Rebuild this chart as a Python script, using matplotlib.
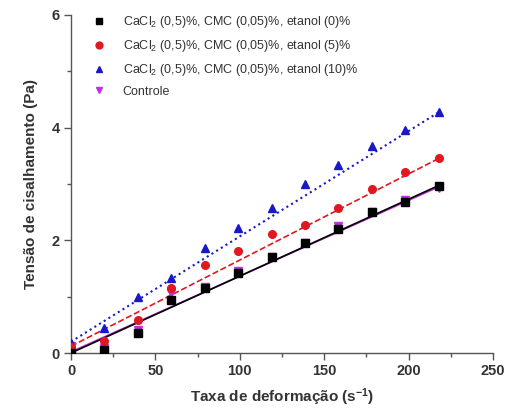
import numpy as np
import matplotlib
matplotlib.use('Agg')
import matplotlib.pyplot as plt

plt.rcParams['font.family'] = ['Liberation Sans', 'DejaVu Sans']
plt.rcParams['mathtext.fontset'] = 'custom'
plt.rcParams['mathtext.rm'] = 'Liberation Sans'
plt.rcParams['mathtext.it'] = 'Liberation Sans:italic'
plt.rcParams['mathtext.bf'] = 'Liberation Sans:bold'

# shear rate (1/s)
taxa = [0, 19.8, 39.6, 59.4, 79.2, 99.0, 118.8, 138.6, 158.4, 178.2, 198.0, 217.8]

# shear stress (Pa)
etanol_0 = [0.0, 0.05, 0.35, 0.94, 1.16, 1.42, 1.71, 1.96, 2.20, 2.50, 2.68, 2.97]
etanol_5 = [0.10, 0.22, 0.59, 1.15, 1.56, 1.81, 2.12, 2.28, 2.58, 2.91, 3.21, 3.46]
etanol_10 = [0.17, 0.44, 1.00, 1.34, 1.86, 2.22, 2.57, 3.00, 3.34, 3.67, 3.96, 4.28]
controle = [0.12, 0.09, 0.41, 1.06, 1.18, 1.45, 1.71, 1.96, 2.25, 2.50, 2.72, 2.93]

# linear fit parameters (intercept in Pa, slope in Pa.s)
intercepto = [0.0, 0.12, 0.20, 0.02]
inclinacao = [0.01365, 0.01530, 0.01870, 0.01345]

labels = [
    r'CaCl$_2$ (0,5)%, CMC (0,05)%, etanol (0)%',
    r'CaCl$_2$ (0,5)%, CMC (0,05)%, etanol (5)%',
    r'CaCl$_2$ (0,5)%, CMC (0,05)%, etanol (10)%',
    'Controle',
]

series = [
    (etanol_0, 'black', 's', '-'),
    (etanol_5, '#e01820', 'o', '--'),
    (etanol_10, '#1818c8', '^', ':'),
    (controle, '#c030e0', 'v', '-'),
]

fig = plt.figure(figsize=(5.12, 4.19), dpi=100)
ax = fig.add_axes([71 / 512, 66 / 419, 422 / 512, 338 / 419])

x = np.array(taxa)
xfit = np.array([0, taxa[-1]])

# fitted lines first so the symbols sit on top
for i in reversed(range(len(series))):
    y, color, marker, ls = series[i]
    lw = 1.5 if ls == ':' else 1.2
    ax.plot(xfit, intercepto[i] + inclinacao[i] * xfit, color=color, ls=ls,
            lw=lw, zorder=2)

handles = []
for (y, color, marker, ls), label in zip(reversed(series), reversed(labels)):
    h, = ax.plot(x, y, ls='none', marker=marker, ms=5.5, color=color,
                 mec=color, label=label, zorder=3)
    handles.append(h)
handles = handles[::-1]

ax.set_xlim(0, 250)
ax.set_ylim(0, 6)
ax.set_xticks([0, 50, 100, 150, 200, 250])
ax.set_xticks([25, 75, 125, 175, 225], minor=True)
ax.set_yticks([0, 2, 4, 6])
ax.set_yticks([1, 3, 5], minor=True)

for side in ('top', 'right'):
    ax.spines[side].set_visible(False)
for side in ('left', 'bottom'):
    ax.spines[side].set_color('#555555')
    ax.spines[side].set_linewidth(1.0)

ax.tick_params(which='major', direction='out', length=5, width=1.0,
               color='#555555', labelsize=10.5, pad=3)
ax.tick_params(which='minor', direction='out', length=3, width=1.0,
               color='#555555')
for t in ax.get_xticklabels() + ax.get_yticklabels():
    t.set_fontweight('bold')
    t.set_color('#333333')

ax.set_xlabel(r'Taxa de deformação (s$^{\mathbf{-1}}$)', fontsize=11,
              fontweight='bold', color='#333333', labelpad=6)
ax.set_ylabel('Tensão de cisalhamento (Pa)', fontsize=11,
              fontweight='bold', color='#333333', labelpad=10)

ax.legend(handles=handles, loc='upper left', bbox_to_anchor=(0.025, 1.035),
          frameon=False, fontsize=9, handlelength=1.0, handletextpad=1.4,
          labelspacing=0.62, markerscale=0.9, labelcolor='#333333')

fig.savefig('out.png', dpi=100)
